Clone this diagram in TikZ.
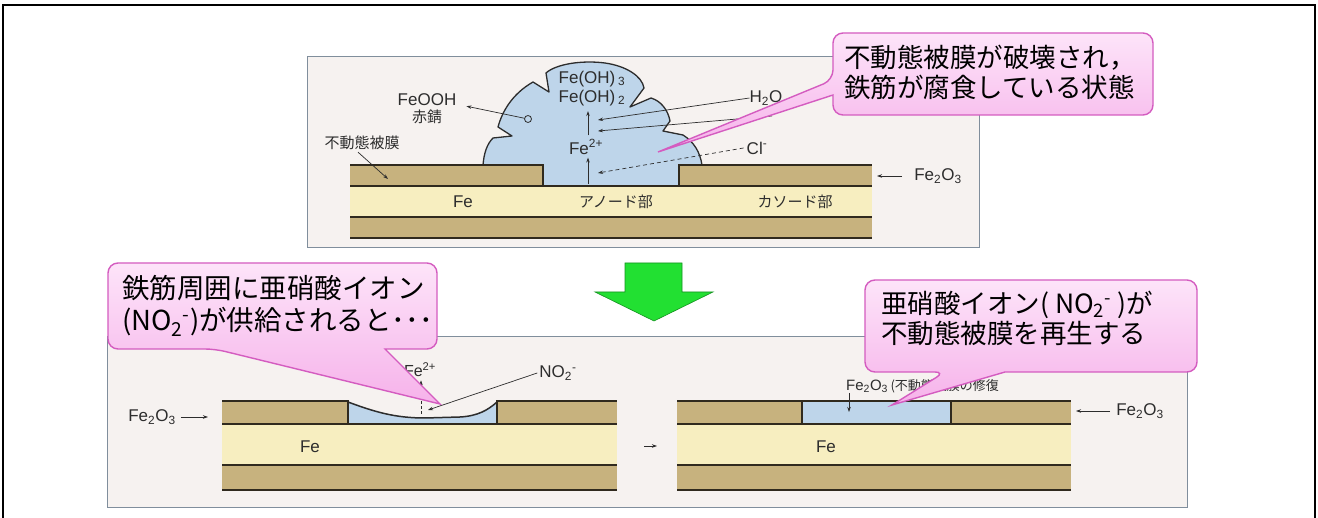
\documentclass[tikz,border=0pt]{standalone}
\usepackage{fontspec}
\setmainfont{Liberation Sans}
\newfontfamily\jp{Noto Sans CJK JP}
\usetikzlibrary{arrows.meta}

\definecolor{rust}{RGB}{199,178,126}
\definecolor{feband}{RGB}{247,238,192}
\definecolor{water}{RGB}{190,213,234}
\definecolor{panelbg}{RGB}{246,242,240}
\definecolor{panelink}{RGB}{128,142,156}
\definecolor{ink}{RGB}{45,45,45}
\definecolor{bandink}{RGB}{48,42,30}
\definecolor{balloontop}{RGB}{253,228,249}
\definecolor{balloonbot}{RGB}{246,178,234}
\definecolor{balloonink}{RGB}{212,92,192}
\definecolor{arrowgreen}{RGB}{34,224,50}

\tikzset{
  panel/.style={fill=panelbg, draw=panelink, line width=1pt},
  bandline/.style={draw=bandink, line width=1.5pt},
  ptr/.style={draw=ink, line width=0.7pt, -{Stealth[length=5pt,width=3.5pt]}},
  lbl/.style={inner sep=0pt, text=ink, font=\fontsize{17}{19}\selectfont},
  jlbl/.style={inner sep=0pt, text=ink, font=\jp\fontsize{15}{17}\selectfont},
  balloon/.style={top color=balloontop, bottom color=balloonbot, draw=balloonink, line width=1.4pt},
  balloontext/.style={inner sep=0pt, anchor=west, align=left, font=\jp\fontsize{26.5}{30}\selectfont},
}

\begin{document}
\begin{tikzpicture}[x=1pt,y=-1pt]
\useasboundingbox (0,0) rectangle (1318,518);
\fill[white] (0,0) rectangle (1318,518);
\draw[line width=2.5pt] (3,5) rectangle (1315,540);

% --- upper panel: film broken, bar corroding
\filldraw[panel] (307,57) rectangle (979,248);
\fill[feband] (350,186) rectangle (872,217);
\fill[rust] (350,217) rectangle (872,238);
\fill[rust] (350,165) rectangle (543,186);
\fill[rust] (679,165) rectangle (872,186);
% rust blob over the anode
\filldraw[fill=water, draw=ink, line width=1.3pt, line join=round]
  (543,186) -- (543,165) -- (483,165)
  .. controls (484,153) and (487,144) .. (493,138) -- (512,136) -- (498,127)
  .. controls (502,112) and (512,94) .. (533,82) -- (549,92) -- (546,73)
  .. controls (556,64) and (582,60) .. (605,63)
  .. controls (626,66) and (642,76) .. (644,88) -- (630,107) -- (651,98)
  .. controls (661,101) and (668,110) .. (670,121) -- (663,131) -- (683,135)
  .. controls (694,142) and (700,152) .. (702,165)
  -- (679,165) -- (679,186) -- cycle;
\draw[bandline] (350,165) -- (543,165) -- (543,186);
\draw[bandline] (679,186) -- (679,165) -- (872,165);
\draw[bandline] (350,186) -- (872,186);
\draw[bandline] (350,217) -- (872,217);
\draw[bandline] (350,238) -- (872,238);

\node[lbl] (feooh) at (427,100) {FeOOH};
\node[jlbl] (sabi) at (427,117) {赤錆};
\coordinate (rustpt) at (528,119);
\draw[ink, line width=0.8pt] (rustpt) circle[radius=3.5pt];
\draw[ptr, shorten <=3.5pt] (rustpt) -- ([xshift=10pt]feooh.south east);

\node[jlbl] (film) at (362,143) {不動態被膜};
\coordinate (filmpt) at (388,179);
\draw[ptr] ([xshift=-4pt,yshift=-2pt]film.south) -- (filmpt);

\node[lbl] (feoh3) at (592,79) {Fe(OH)\,\textsubscript{3}};
\node[lbl] (feoh2) at (592,98) {Fe(OH)\,\textsubscript{2}};
\node[lbl] (feion) at (586,147) {Fe\textsuperscript{2+}};
\coordinate (anodept) at (588,184);
\draw[ptr, shorten >=3pt] (anodept) -- (anodept |- feion.south);
\draw[ptr, shorten <=4pt, shorten >=5pt] (anodept |- feion.north) -- (anodept |- feoh2.south);

\node[lbl] (h2o) at (766,98) {H\textsubscript{2}O};
\coordinate (h2oa) at (598,120);
\coordinate (h2ob) at (598,131);
\coordinate (h2otail) at (772,116);
\draw[ptr] (h2o.west) -- (h2oa);
\draw[ptr] (h2otail) -- (h2ob);

\node[lbl] (chloride) at (757,148) {Cl\textsuperscript{-}};
\coordinate (clpt) at (598,173);
\draw[ptr, dash pattern=on 4pt off 3pt] ([xshift=-3pt]chloride.west) -- (clpt);

\node[lbl] (oxtop) at (938,176) {Fe\textsubscript{2}O\textsubscript{3}};
\coordinate (oxtoppt) at (877,176);
\draw[ptr] ([xshift=-12pt]oxtop.west) -- (oxtoppt);

\node[lbl] (feA) at (463,202) {Fe};
\node[jlbl] (anode) at (616,202) {アノード部};
\node[jlbl] (cathode) at (795,202) {カソード部};

\draw[balloon] (658,152) -- (833,95) [rounded corners=10pt] -- (833,115) -- (1153,115)
  -- (1153,33) -- (833,33) -- (833,80) [sharp corners] -- cycle;
\node[balloontext] (brokenmsg) at (844,72) {不動態被膜が破壊され，\\鉄筋が腐食している状態};

% --- arrow between the two states
\filldraw[fill=arrowgreen, draw=arrowgreen!65!black, line width=0.6pt]
  (625,263) -- (682,263) -- (682,292) -- (713,292) -- (654,321) -- (595,292) -- (625,292) -- cycle;

% --- lower panel: film restored by nitrite
\filldraw[panel] (107,337) rectangle (1187,508);

% left bar
\fill[rust] (222,401) rectangle (348,424);
\fill[rust] (497,401) rectangle (617,424);
\fill[feband] (222,424) rectangle (617,465);
\fill[rust] (222,465) rectangle (617,490);
\fill[water] (348,402) .. controls (375,412) and (395,418) .. (425,418) -- (460,417)
  .. controls (478,416) and (488,410) .. (497,402) -- (497,424) -- (348,424) -- cycle;
\draw[ink, line width=1.5pt] (348,402) .. controls (375,412) and (395,418) .. (425,418) -- (460,417)
  .. controls (478,416) and (488,410) .. (497,402);
\draw[bandline] (222,401) -- (348,401) -- (348,424);
\draw[bandline] (497,424) -- (497,401) -- (617,401);
\draw[bandline] (222,424) -- (617,424);
\draw[bandline] (222,465) -- (617,465);
\draw[bandline] (222,490) -- (617,490);

\node[lbl] (oxleft) at (152,417) {Fe\textsubscript{2}O\textsubscript{3}};
\coordinate (oxleftpt) at (208,417);
\draw[ptr] ([xshift=5pt]oxleft.east) -- (oxleftpt);
\node[lbl] (feB) at (310,447) {Fe};

\node[lbl, font=\fontsize{16}{18}\selectfont] (feionB) at (420,370) {Fe\textsuperscript{2+}};
\coordinate (pitpt) at (421,414);
\draw[ink, line width=0.6pt, dash pattern=on 3pt off 2pt] (pitpt) -- (421,397);
\draw[ptr, shorten >=3pt] (421,397) -- (feionB.south -| pitpt);
\node[lbl] (nitrite) at (558,373) {NO\textsubscript{2}\textsuperscript{-}};
\coordinate (nitritept) at (428,410);
\draw[ptr] ([xshift=-2pt]nitrite.west) -- (nitritept);

\coordinate (stepa) at (644,446);
\coordinate (stepb) at (657,446);
\draw[ptr] (stepa) -- (stepb);

% right bar
\fill[rust] (677,401) rectangle (802,424);
\fill[water] (802,401) rectangle (951,424);
\fill[rust] (951,401) rectangle (1071,424);
\fill[feband] (677,424) rectangle (1071,465);
\fill[rust] (677,465) rectangle (1071,490);
\draw[bandline] (677,401) -- (1071,401);
\draw[bandline] (677,424) -- (1071,424);
\draw[bandline] (677,465) -- (1071,465);
\draw[bandline] (677,490) -- (1071,490);
\draw[bandline] (802,401) -- (802,424);
\draw[bandline] (951,401) -- (951,424);

\node[lbl] (feC) at (826,447) {Fe};
\node[lbl, anchor=west, font=\fontsize{15}{17}\selectfont] (repair) at (846,386)
  {Fe\textsubscript{2}O\textsubscript{3}\,{\jp\fontsize{13}{15}\selectfont (不動態被膜の修復}};
\coordinate (repairpt) at (849,412);
\draw[ptr] ([xshift=3pt]repair.south west) -- (repairpt);

\node[lbl] (oxright) at (1140,411) {Fe\textsubscript{2}O\textsubscript{3}};
\coordinate (oxrightpt) at (1076,411);
\draw[ptr] ([xshift=-6pt]oxright.west) -- (oxrightpt);

% balloons of the lower panel
\draw[balloon] (440,404) -- (385,349) [rounded corners=10pt] -- (437,349) -- (437,263)
  -- (108,263) -- (108,349) -- (215,349) [sharp corners] -- cycle;
\node[balloontext, font=\jp\fontsize{27.5}{32}\selectfont] (supplymsg) at (122,306)
  {鉄筋周囲に亜硝酸イオン\\(NO\textsubscript{2}\textsuperscript{-})が供給されると･･･};

\draw[balloon] (892,405) -- (1005,372) [rounded corners=10pt] -- (1197,372) -- (1197,280)
  -- (865,280) -- (865,372) -- (945,372) [sharp corners] -- cycle;
\node[balloontext] (regenmsg) at (881,318)
  {亜硝酸イオン( NO\textsubscript{2}\textsuperscript{-} )が\\不動態被膜を再生する};
\end{tikzpicture}
\end{document}
